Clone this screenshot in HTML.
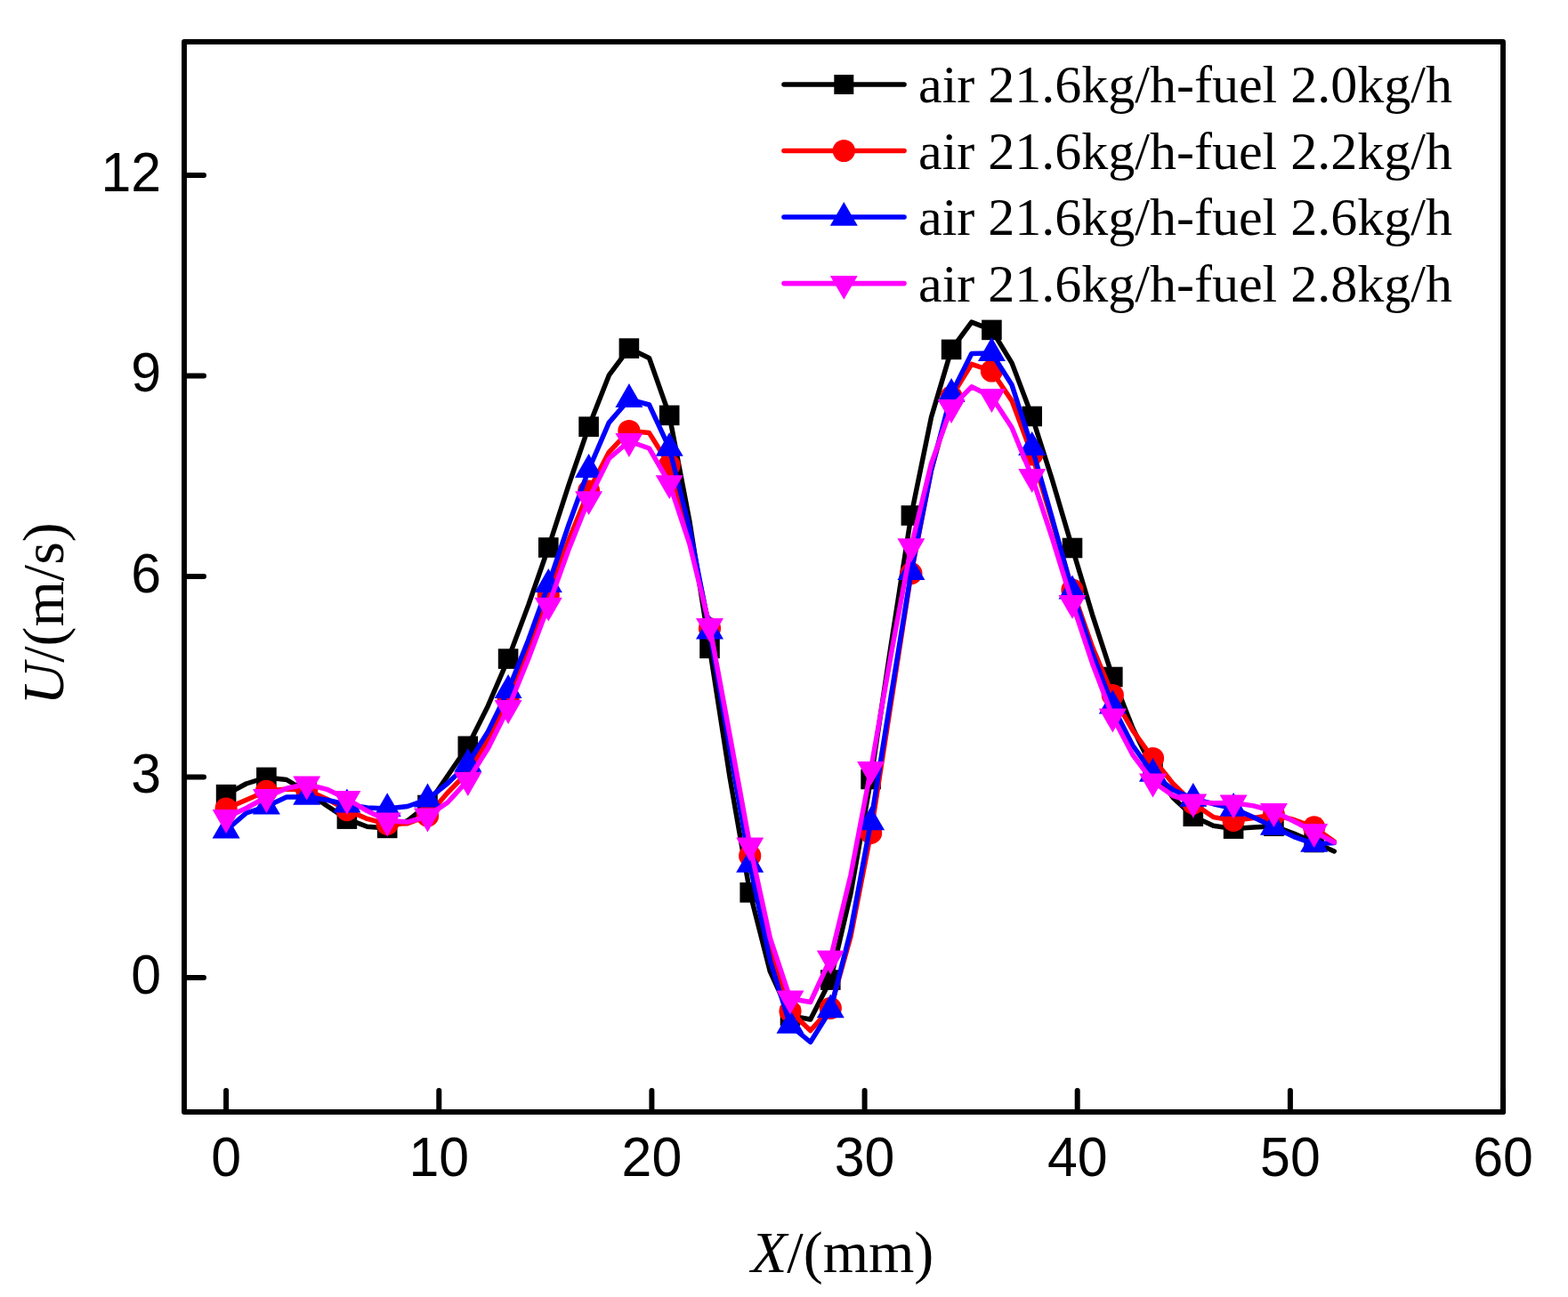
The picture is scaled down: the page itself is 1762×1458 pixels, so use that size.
<!DOCTYPE html>
<html><head><meta charset="utf-8"><title>U vs X</title><style>html,body{margin:0;padding:0;background:#fff}svg{display:block}</style></head><body>
<svg width="1762" height="1458" viewBox="0 0 1762 1458">
<rect width="100%" height="100%" fill="#fff"/>
<g><path d="M254.1 893.2 L276.7 881.0 L299.4 873.9 L322.0 876.5 L344.7 890.0 L367.3 905.7 L389.9 920.6 L412.6 929.3 L435.2 930.9 L457.9 922.7 L480.5 905.0 L503.1 872.0 L525.8 838.8 L548.4 793.4 L571.1 740.6 L593.7 680.4 L616.3 615.5 L639.0 545.3 L661.6 479.7 L684.3 421.9 L706.9 391.6 L729.5 402.4 L752.2 466.9 L774.8 585.4 L797.5 728.8 L820.1 873.8 L842.7 1003.3 L865.4 1092.2 L888.0 1141.7 L910.7 1146.0 L933.3 1101.6 L955.9 1004.8 L978.6 876.0 L1001.2 725.3 L1023.9 579.5 L1046.5 469.0 L1069.1 392.9 L1091.8 362.1 L1114.4 370.9 L1137.1 408.1 L1159.7 468.0 L1182.3 539.0 L1205.0 616.0 L1227.6 691.3 L1250.3 761.0 L1272.9 818.5 L1295.5 864.5 L1318.2 896.7 L1340.8 917.7 L1363.5 928.2 L1386.1 931.6 L1408.7 929.9 L1431.4 928.7 L1454.0 937.0 L1476.7 947.0 L1499.3 957.0" fill="none" stroke="#000000" stroke-width="5.5" stroke-linejoin="round" stroke-linecap="round"/><rect x="242.8" y="881.9" width="22.6" height="22.6" fill="#000000"/><rect x="288.1" y="862.6" width="22.6" height="22.6" fill="#000000"/><rect x="333.4" y="878.7" width="22.6" height="22.6" fill="#000000"/><rect x="378.6" y="909.3" width="22.6" height="22.6" fill="#000000"/><rect x="423.9" y="919.6" width="22.6" height="22.6" fill="#000000"/><rect x="469.2" y="893.7" width="22.6" height="22.6" fill="#000000"/><rect x="514.5" y="827.5" width="22.6" height="22.6" fill="#000000"/><rect x="559.8" y="729.3" width="22.6" height="22.6" fill="#000000"/><rect x="605.0" y="604.2" width="22.6" height="22.6" fill="#000000"/><rect x="650.3" y="468.4" width="22.6" height="22.6" fill="#000000"/><rect x="695.6" y="380.3" width="22.6" height="22.6" fill="#000000"/><rect x="740.9" y="455.6" width="22.6" height="22.6" fill="#000000"/><rect x="786.2" y="717.5" width="22.6" height="22.6" fill="#000000"/><rect x="831.4" y="992.0" width="22.6" height="22.6" fill="#000000"/><rect x="876.7" y="1130.4" width="22.6" height="22.6" fill="#000000"/><rect x="922.0" y="1090.3" width="22.6" height="22.6" fill="#000000"/><rect x="967.3" y="864.7" width="22.6" height="22.6" fill="#000000"/><rect x="1012.6" y="568.2" width="22.6" height="22.6" fill="#000000"/><rect x="1057.8" y="381.6" width="22.6" height="22.6" fill="#000000"/><rect x="1103.1" y="359.6" width="22.6" height="22.6" fill="#000000"/><rect x="1148.4" y="456.7" width="22.6" height="22.6" fill="#000000"/><rect x="1193.7" y="604.7" width="22.6" height="22.6" fill="#000000"/><rect x="1239.0" y="749.7" width="22.6" height="22.6" fill="#000000"/><rect x="1284.2" y="853.2" width="22.6" height="22.6" fill="#000000"/><rect x="1329.5" y="906.4" width="22.6" height="22.6" fill="#000000"/><rect x="1374.8" y="920.3" width="22.6" height="22.6" fill="#000000"/><rect x="1420.1" y="917.4" width="22.6" height="22.6" fill="#000000"/><rect x="1465.4" y="935.7" width="22.6" height="22.6" fill="#000000"/></g>
<g><path d="M254.1 909.0 L276.7 899.2 L299.4 889.3 L322.0 887.0 L344.7 888.0 L367.3 898.2 L389.9 910.6 L412.6 920.4 L435.2 926.3 L457.9 925.8 L480.5 917.2 L503.1 891.0 L525.8 868.0 L548.4 831.2 L571.1 786.0 L593.7 729.7 L616.3 669.0 L639.0 607.4 L661.6 552.0 L684.3 508.3 L706.9 484.5 L729.5 486.6 L752.2 523.0 L774.8 601.2 L797.5 706.5 L820.1 834.8 L842.7 962.0 L865.4 1065.6 L888.0 1136.8 L910.7 1158.5 L933.3 1133.3 L955.9 1052.9 L978.6 936.4 L1001.2 790.6 L1023.9 644.6 L1046.5 528.9 L1069.1 446.0 L1091.8 409.4 L1114.4 417.0 L1137.1 450.6 L1159.7 511.0 L1182.3 585.5 L1205.0 663.0 L1227.6 727.3 L1250.3 781.5 L1272.9 821.2 L1295.5 852.5 L1318.2 881.0 L1340.8 903.0 L1363.5 918.6 L1386.1 922.3 L1408.7 919.5 L1431.4 916.0 L1454.0 921.5 L1476.7 929.9 L1499.3 946.0" fill="none" stroke="#ff0000" stroke-width="5.5" stroke-linejoin="round" stroke-linecap="round"/><circle cx="254.1" cy="909.0" r="12.6" fill="#ff0000"/><circle cx="299.4" cy="889.3" r="12.6" fill="#ff0000"/><circle cx="344.7" cy="888.0" r="12.6" fill="#ff0000"/><circle cx="389.9" cy="910.6" r="12.6" fill="#ff0000"/><circle cx="435.2" cy="926.3" r="12.6" fill="#ff0000"/><circle cx="480.5" cy="917.2" r="12.6" fill="#ff0000"/><circle cx="525.8" cy="868.0" r="12.6" fill="#ff0000"/><circle cx="571.1" cy="786.0" r="12.6" fill="#ff0000"/><circle cx="616.3" cy="669.0" r="12.6" fill="#ff0000"/><circle cx="661.6" cy="552.0" r="12.6" fill="#ff0000"/><circle cx="706.9" cy="484.5" r="12.6" fill="#ff0000"/><circle cx="752.2" cy="523.0" r="12.6" fill="#ff0000"/><circle cx="797.5" cy="706.5" r="12.6" fill="#ff0000"/><circle cx="842.7" cy="962.0" r="12.6" fill="#ff0000"/><circle cx="888.0" cy="1136.8" r="12.6" fill="#ff0000"/><circle cx="933.3" cy="1133.3" r="12.6" fill="#ff0000"/><circle cx="978.6" cy="936.4" r="12.6" fill="#ff0000"/><circle cx="1023.9" cy="644.6" r="12.6" fill="#ff0000"/><circle cx="1069.1" cy="446.0" r="12.6" fill="#ff0000"/><circle cx="1114.4" cy="417.0" r="12.6" fill="#ff0000"/><circle cx="1159.7" cy="511.0" r="12.6" fill="#ff0000"/><circle cx="1205.0" cy="663.0" r="12.6" fill="#ff0000"/><circle cx="1250.3" cy="781.5" r="12.6" fill="#ff0000"/><circle cx="1295.5" cy="852.5" r="12.6" fill="#ff0000"/><circle cx="1340.8" cy="903.0" r="12.6" fill="#ff0000"/><circle cx="1386.1" cy="922.3" r="12.6" fill="#ff0000"/><circle cx="1431.4" cy="916.0" r="12.6" fill="#ff0000"/><circle cx="1476.7" cy="929.9" r="12.6" fill="#ff0000"/></g>
<g><path d="M254.1 933.4 L276.7 914.0 L299.4 906.5 L322.0 896.0 L344.7 895.8 L367.3 899.2 L389.9 904.5 L412.6 908.0 L435.2 909.1 L457.9 906.5 L480.5 898.5 L503.1 880.5 L525.8 858.8 L548.4 822.4 L571.1 776.0 L593.7 719.4 L616.3 657.0 L639.0 590.0 L661.6 528.0 L684.3 475.1 L706.9 449.0 L729.5 455.0 L752.2 503.8 L774.8 593.6 L797.5 709.4 L820.1 842.1 L842.7 971.7 L865.4 1079.7 L888.0 1152.7 L910.7 1171.5 L933.3 1135.3 L955.9 1046.3 L978.6 924.3 L1001.2 783.0 L1023.9 643.0 L1046.5 528.3 L1069.1 443.0 L1091.8 397.4 L1114.4 397.0 L1137.1 432.8 L1159.7 503.0 L1182.3 582.3 L1205.0 664.5 L1227.6 734.3 L1250.3 793.5 L1272.9 838.0 L1295.5 869.8 L1318.2 887.9 L1340.8 897.8 L1363.5 903.7 L1386.1 908.8 L1408.7 918.8 L1431.4 929.8 L1454.0 940.6 L1476.7 948.7 L1499.3 947.5" fill="none" stroke="#0000ff" stroke-width="5.5" stroke-linejoin="round" stroke-linecap="round"/><path d="M254.1 915.5L269.6 942.4L238.6 942.4Z" fill="#0000ff"/><path d="M299.4 888.6L314.9 915.5L283.9 915.5Z" fill="#0000ff"/><path d="M344.7 877.9L360.2 904.8L329.2 904.8Z" fill="#0000ff"/><path d="M389.9 886.6L405.4 913.5L374.4 913.5Z" fill="#0000ff"/><path d="M435.2 891.2L450.7 918.1L419.7 918.1Z" fill="#0000ff"/><path d="M480.5 880.6L496.0 907.5L465.0 907.5Z" fill="#0000ff"/><path d="M525.8 840.9L541.3 867.8L510.3 867.8Z" fill="#0000ff"/><path d="M571.1 758.1L586.6 785.0L555.6 785.0Z" fill="#0000ff"/><path d="M616.3 639.1L631.8 666.0L600.8 666.0Z" fill="#0000ff"/><path d="M661.6 510.1L677.1 537.0L646.1 537.0Z" fill="#0000ff"/><path d="M706.9 431.1L722.4 457.9L691.4 457.9Z" fill="#0000ff"/><path d="M752.2 485.9L767.7 512.8L736.7 512.8Z" fill="#0000ff"/><path d="M797.5 691.5L813.0 718.4L782.0 718.4Z" fill="#0000ff"/><path d="M842.7 953.8L858.2 980.7L827.2 980.7Z" fill="#0000ff"/><path d="M888.0 1134.8L903.5 1161.7L872.5 1161.7Z" fill="#0000ff"/><path d="M933.3 1117.4L948.8 1144.2L917.8 1144.2Z" fill="#0000ff"/><path d="M978.6 906.4L994.1 933.2L963.1 933.2Z" fill="#0000ff"/><path d="M1023.9 625.1L1039.4 652.0L1008.4 652.0Z" fill="#0000ff"/><path d="M1069.1 425.1L1084.6 451.9L1053.6 451.9Z" fill="#0000ff"/><path d="M1114.4 379.1L1129.9 405.9L1098.9 405.9Z" fill="#0000ff"/><path d="M1159.7 485.1L1175.2 511.9L1144.2 511.9Z" fill="#0000ff"/><path d="M1205.0 646.6L1220.5 673.5L1189.5 673.5Z" fill="#0000ff"/><path d="M1250.3 775.6L1265.8 802.5L1234.8 802.5Z" fill="#0000ff"/><path d="M1295.5 851.9L1311.0 878.8L1280.0 878.8Z" fill="#0000ff"/><path d="M1340.8 879.9L1356.3 906.8L1325.3 906.8Z" fill="#0000ff"/><path d="M1386.1 890.9L1401.6 917.8L1370.6 917.8Z" fill="#0000ff"/><path d="M1431.4 911.9L1446.9 938.8L1415.9 938.8Z" fill="#0000ff"/><path d="M1476.7 930.8L1492.2 957.7L1461.2 957.7Z" fill="#0000ff"/></g>
<g><path d="M254.1 919.0 L276.7 908.5 L299.4 896.0 L322.0 886.3 L344.7 881.5 L367.3 887.3 L389.9 898.0 L412.6 911.6 L435.2 922.5 L457.9 924.1 L480.5 917.5 L503.1 902.0 L525.8 877.0 L548.4 841.2 L571.1 796.0 L593.7 740.8 L616.3 680.7 L639.0 617.8 L661.6 561.2 L684.3 515.5 L706.9 496.0 L729.5 504.0 L752.2 543.2 L774.8 611.2 L797.5 704.1 L820.1 826.6 L842.7 950.5 L865.4 1054.7 L888.0 1122.5 L910.7 1126.5 L933.3 1077.5 L955.9 984.1 L978.6 865.0 L1001.2 736.1 L1023.9 614.3 L1046.5 521.2 L1069.1 458.0 L1091.8 434.8 L1114.4 446.0 L1137.1 480.7 L1159.7 536.1 L1182.3 604.7 L1205.0 677.9 L1227.6 746.0 L1250.3 805.5 L1272.9 848.5 L1295.5 878.5 L1318.2 894.5 L1340.8 901.5 L1363.5 902.8 L1386.1 902.5 L1408.7 905.9 L1431.4 912.0 L1454.0 923.3 L1476.7 935.0 L1499.3 947.0" fill="none" stroke="#ff00ff" stroke-width="5.5" stroke-linejoin="round" stroke-linecap="round"/><path d="M238.6 910.0L269.6 910.0L254.1 936.9Z" fill="#ff00ff"/><path d="M283.9 887.0L314.9 887.0L299.4 913.9Z" fill="#ff00ff"/><path d="M329.2 872.5L360.2 872.5L344.7 899.4Z" fill="#ff00ff"/><path d="M374.4 889.0L405.4 889.0L389.9 915.9Z" fill="#ff00ff"/><path d="M419.7 913.5L450.7 913.5L435.2 940.4Z" fill="#ff00ff"/><path d="M465.0 908.5L496.0 908.5L480.5 935.4Z" fill="#ff00ff"/><path d="M510.3 868.0L541.3 868.0L525.8 894.9Z" fill="#ff00ff"/><path d="M555.6 787.0L586.6 787.0L571.1 813.9Z" fill="#ff00ff"/><path d="M600.8 671.8L631.8 671.8L616.3 698.6Z" fill="#ff00ff"/><path d="M646.1 552.2L677.1 552.2L661.6 579.1Z" fill="#ff00ff"/><path d="M691.4 487.1L722.4 487.1L706.9 513.9Z" fill="#ff00ff"/><path d="M736.7 534.2L767.7 534.2L752.2 561.1Z" fill="#ff00ff"/><path d="M782.0 695.1L813.0 695.1L797.5 722.0Z" fill="#ff00ff"/><path d="M827.2 941.5L858.2 941.5L842.7 968.4Z" fill="#ff00ff"/><path d="M872.5 1113.5L903.5 1113.5L888.0 1140.4Z" fill="#ff00ff"/><path d="M917.8 1068.5L948.8 1068.5L933.3 1095.4Z" fill="#ff00ff"/><path d="M963.1 856.0L994.1 856.0L978.6 882.9Z" fill="#ff00ff"/><path d="M1008.4 605.3L1039.4 605.3L1023.9 632.2Z" fill="#ff00ff"/><path d="M1053.6 449.1L1084.6 449.1L1069.1 475.9Z" fill="#ff00ff"/><path d="M1098.9 437.1L1129.9 437.1L1114.4 463.9Z" fill="#ff00ff"/><path d="M1144.2 527.1L1175.2 527.1L1159.7 554.0Z" fill="#ff00ff"/><path d="M1189.5 668.9L1220.5 668.9L1205.0 695.8Z" fill="#ff00ff"/><path d="M1234.8 796.5L1265.8 796.5L1250.3 823.4Z" fill="#ff00ff"/><path d="M1280.0 869.5L1311.0 869.5L1295.5 896.4Z" fill="#ff00ff"/><path d="M1325.3 892.5L1356.3 892.5L1340.8 919.4Z" fill="#ff00ff"/><path d="M1370.6 893.5L1401.6 893.5L1386.1 920.4Z" fill="#ff00ff"/><path d="M1415.9 903.0L1446.9 903.0L1431.4 929.9Z" fill="#ff00ff"/><path d="M1461.2 926.0L1492.2 926.0L1476.7 952.9Z" fill="#ff00ff"/></g>
<rect x="207" y="47" width="1482" height="1203" fill="none" stroke="#000" stroke-width="5.9" stroke-linejoin="round"/>
<path d="M254.1 1250V1226 M493.3 1250V1226 M732.4 1250V1226 M971.6 1250V1226 M1210.7 1250V1226 M1449.9 1250V1226 M1689.1 1250V1226 M207 1098.9H229 M207 873.4H229 M207 647.9H229 M207 422.4H229 M207 196.9H229" stroke="#000" stroke-width="6" stroke-linecap="round" fill="none"/>
<g font-family="'Liberation Sans', Arial, sans-serif" font-size="63" fill="#000"><text x="263.3" y="1322" transform="scale(0.965,1)" text-anchor="middle">0</text><text x="511.2" y="1322" transform="scale(0.965,1)" text-anchor="middle">10</text><text x="759.0" y="1322" transform="scale(0.965,1)" text-anchor="middle">20</text><text x="1006.8" y="1322" transform="scale(0.965,1)" text-anchor="middle">30</text><text x="1254.7" y="1322" transform="scale(0.965,1)" text-anchor="middle">40</text><text x="1502.5" y="1322" transform="scale(0.965,1)" text-anchor="middle">50</text><text x="1750.3" y="1322" transform="scale(0.965,1)" text-anchor="middle">60</text><text x="187.6" y="1116.9" transform="scale(0.965,1)" text-anchor="end">0</text><text x="187.6" y="891.4" transform="scale(0.965,1)" text-anchor="end">3</text><text x="187.6" y="665.9" transform="scale(0.965,1)" text-anchor="end">6</text><text x="187.6" y="440.4" transform="scale(0.965,1)" text-anchor="end">9</text><text x="187.6" y="214.9" transform="scale(0.965,1)" text-anchor="end">12</text></g>
<g font-family="'Liberation Serif', 'Times New Roman', serif" font-size="66" fill="#000"><text x="844" y="1430"><tspan font-style="italic">X</tspan>/(mm)</text><text transform="translate(71.3 792.5) rotate(-90)"><tspan font-style="italic">U</tspan>/(m/s)</text></g>
<g><path d="M881 95H1016" stroke="#000" stroke-width="5.6" stroke-linecap="round"/><rect x="937.3" y="84.0" width="22" height="22" fill="#000"/><text x="1032" y="114.9" font-family="'Liberation Serif', 'Times New Roman', serif" font-size="60" fill="#000">air 21.6kg/h-fuel 2.0kg/h</text><path d="M881 169.5H1016" stroke="#f00" stroke-width="5.6" stroke-linecap="round"/><circle cx="948.3" cy="169.5" r="12.6" fill="#f00"/><text x="1032" y="189.5" font-family="'Liberation Serif', 'Times New Roman', serif" font-size="60" fill="#000">air 21.6kg/h-fuel 2.2kg/h</text><path d="M881 244H1016" stroke="#00f" stroke-width="5.6" stroke-linecap="round"/><path d="M948.3 227.0L963.8 253.8L932.8 253.8Z" fill="#00f"/><text x="1032" y="264.1" font-family="'Liberation Serif', 'Times New Roman', serif" font-size="60" fill="#000">air 21.6kg/h-fuel 2.6kg/h</text><path d="M881 318.6H1016" stroke="#f0f" stroke-width="5.6" stroke-linecap="round"/><path d="M932.8 310.0L963.8 310.0L948.3 336.8Z" fill="#f0f"/><text x="1032" y="338.7" font-family="'Liberation Serif', 'Times New Roman', serif" font-size="60" fill="#000">air 21.6kg/h-fuel 2.8kg/h</text></g>
</svg>
</body></html>
